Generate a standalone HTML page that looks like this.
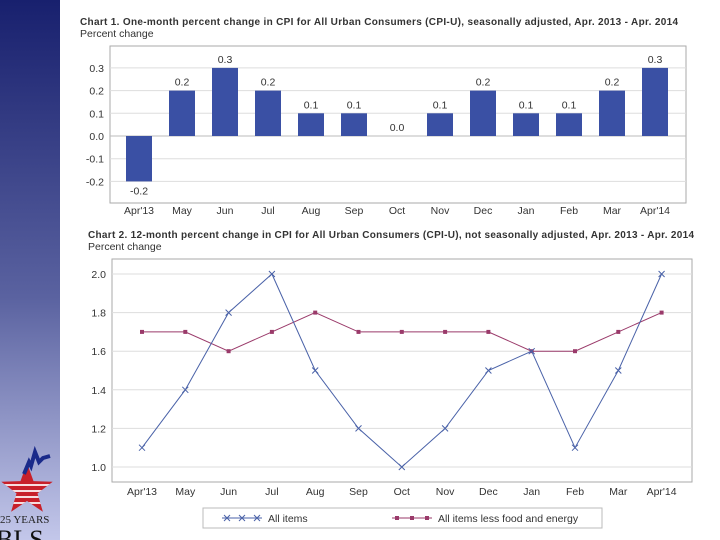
<!DOCTYPE html>
<html><head><meta charset="utf-8"><style>
body{margin:0;width:720px;height:540px;overflow:hidden;background:#fff;font-family:"Liberation Sans",sans-serif;}
#side{position:absolute;left:0;top:0;width:60px;height:540px;background:linear-gradient(#18206e,#5a62a0 55%,#c3c7ea);}
svg{position:absolute;left:0;top:0}
text{font-family:"Liberation Sans",sans-serif;fill:#333}
</style></head><body>
<div id="side"></div>
<svg id="c" width="720" height="540">
 <polygon id="star" fill="#c8202a"/>
 <polyline points="24,474 29,462 31,466 35,452 39,462 43,458 50,456" fill="none" stroke="#1a2a8a" stroke-width="4"/>
 <text x="0" y="523" font-size="11" style="font-family:'Liberation Serif',serif;fill:#222">25 YEARS</text>
 <text x="-4" y="548" font-size="26" style="font-family:'Liberation Serif',serif;fill:#111">BLS</text>
 <text x="80" y="25" font-size="10" font-weight="bold" textLength="598">Chart 1. One-month percent change in CPI for All Urban Consumers (CPI-U), seasonally adjusted, Apr. 2013 - Apr. 2014</text>
 <text x="80" y="37" font-size="10.5">Percent change</text>
 <rect x="110" y="46" width="576" height="157" fill="none" stroke="#aaa"/>
 <text x="88" y="238" font-size="10" font-weight="bold" textLength="606">Chart 2. 12-month percent change in CPI for All Urban Consumers (CPI-U), not seasonally adjusted, Apr. 2013 - Apr. 2014</text>
 <text x="88" y="250" font-size="10.5">Percent change</text>
 <rect x="112" y="259" width="580" height="223" fill="none" stroke="#aaa"/>
 <rect x="203" y="508" width="399" height="20" fill="#fff" stroke="#bbb"/>
</svg>
<script>
const months=["Apr'13","May","Jun","Jul","Aug","Sep","Oct","Nov","Dec","Jan","Feb","Mar","Apr'14"];
const monthly=[-0.2,0.2,0.3,0.2,0.1,0.1,0.0,0.1,0.2,0.1,0.1,0.2,0.3];
const y1Ticks=[-0.2,-0.1,0.0,0.1,0.2,0.3];
const allItems=[1.1,1.4,1.8,2.0,1.5,1.2,1.0,1.2,1.5,1.6,1.1,1.5,2.0];
const core=[1.7,1.7,1.6,1.7,1.8,1.7,1.7,1.7,1.7,1.6,1.6,1.7,1.8];
const y2Ticks=[1.0,1.2,1.4,1.6,1.8,2.0];
const svg=document.getElementById('c');const NS='http://www.w3.org/2000/svg';
(function(){let p=[];for(let k=0;k<10;k++){const a=-Math.PI/2+k*Math.PI/5,r=k%2?11:27;p.push((27+r*Math.cos(a)).toFixed(1)+','+(490+r*Math.sin(a)).toFixed(1));}document.getElementById('star').setAttribute('points',p.join(' '));})();
function mk(t,a){const e=document.createElementNS(NS,t);for(const k in a)e.setAttribute(k,a[k]);svg.appendChild(e);return e;}
for(let s=0;s<4;s++){let w=mk('rect',{x:0,y:484+s*6,width:56,height:2,fill:'#fff',opacity:0.85,'clip-path':'url(#sc)'});

}
const defs=mk('clipPath',{id:'sc'});const u=document.createElementNS(NS,'polygon');u.setAttribute('points',document.getElementById('star').getAttribute('points'));defs.appendChild(u);
const x1=i=>139+i*43, y1=v=>136-v*227;
const x2=i=>142+i*43.3, y2=v=>467-(v-1)*193;
y1Ticks.forEach(v=>{let l=mk('line',{x1:110,x2:686,y1:y1(v),y2:y1(v),stroke:v===0?'#bbb':'#ddd'});


let t=mk('text',{x:104,y:y1(v)+4,'font-size':10.5,'text-anchor':'end'});t.textContent=v.toFixed(1);

});
monthly.forEach((v,i)=>{const top=Math.min(y1(v),y1(0)),h=Math.abs(y1(v)-y1(0));
let r=mk('rect',{x:x1(i)-13,y:top,width:26,height:h,fill:'#3a50a4'});


let t=mk('text',{x:x1(i),y:v<0?y1(v)+13:y1(v)-5,'font-size':10.5,'text-anchor':'middle'});t.textContent=v.toFixed(1);


let m=mk('text',{x:x1(i),y:214,'font-size':10.5,'text-anchor':'middle'});m.textContent=months[i];

});
y2Ticks.forEach(v=>{let l=mk('line',{x1:112,x2:692,y1:y2(v),y2:y2(v),stroke:'#ddd'});


let t=mk('text',{x:106,y:y2(v)+4,'font-size':10.5,'text-anchor':'end'});t.textContent=v.toFixed(1);

});
months.forEach((m,i)=>{let t=mk('text',{x:x2(i),y:495,'font-size':10.5,'text-anchor':'middle'});t.textContent=m;

});
function xmark(x,y,c){let p=mk('path',{d:`M${x-3},${y-3}L${x+3},${y+3}M${x-3},${y+3}L${x+3},${y-3}`,stroke:c,'stroke-width':1});

}
function sq(x,y,c){let r=mk('rect',{x:x-2,y:y-2,width:4,height:4,fill:c});

}
let pc=mk('polyline',{points:core.map((v,i)=>x2(i)+','+y2(v)).join(' '),fill:'none',stroke:'#9a3a6a','stroke-width':1});


core.forEach((v,i)=>sq(x2(i),y2(v),'#9a3a6a'));
let pa=mk('polyline',{points:allItems.map((v,i)=>x2(i)+','+y2(v)).join(' '),fill:'none',stroke:'#4a62a8','stroke-width':1});


allItems.forEach((v,i)=>xmark(x2(i),y2(v),'#4a62a8'));
let l1=mk('line',{x1:222,x2:262,y1:518,y2:518,stroke:'#4a62a8'});


[227,242,257].forEach(x=>xmark(x,518,'#4a62a8'));
let t1=mk('text',{x:268,y:522,'font-size':10.5});t1.textContent='All items';


let l2=mk('line',{x1:392,x2:432,y1:518,y2:518,stroke:'#9a3a6a'});


[397,412,427].forEach(x=>sq(x,518,'#9a3a6a'));
let t2=mk('text',{x:438,y:522,'font-size':10.5});t2.textContent='All items less food and energy';


</script>
</body></html>
